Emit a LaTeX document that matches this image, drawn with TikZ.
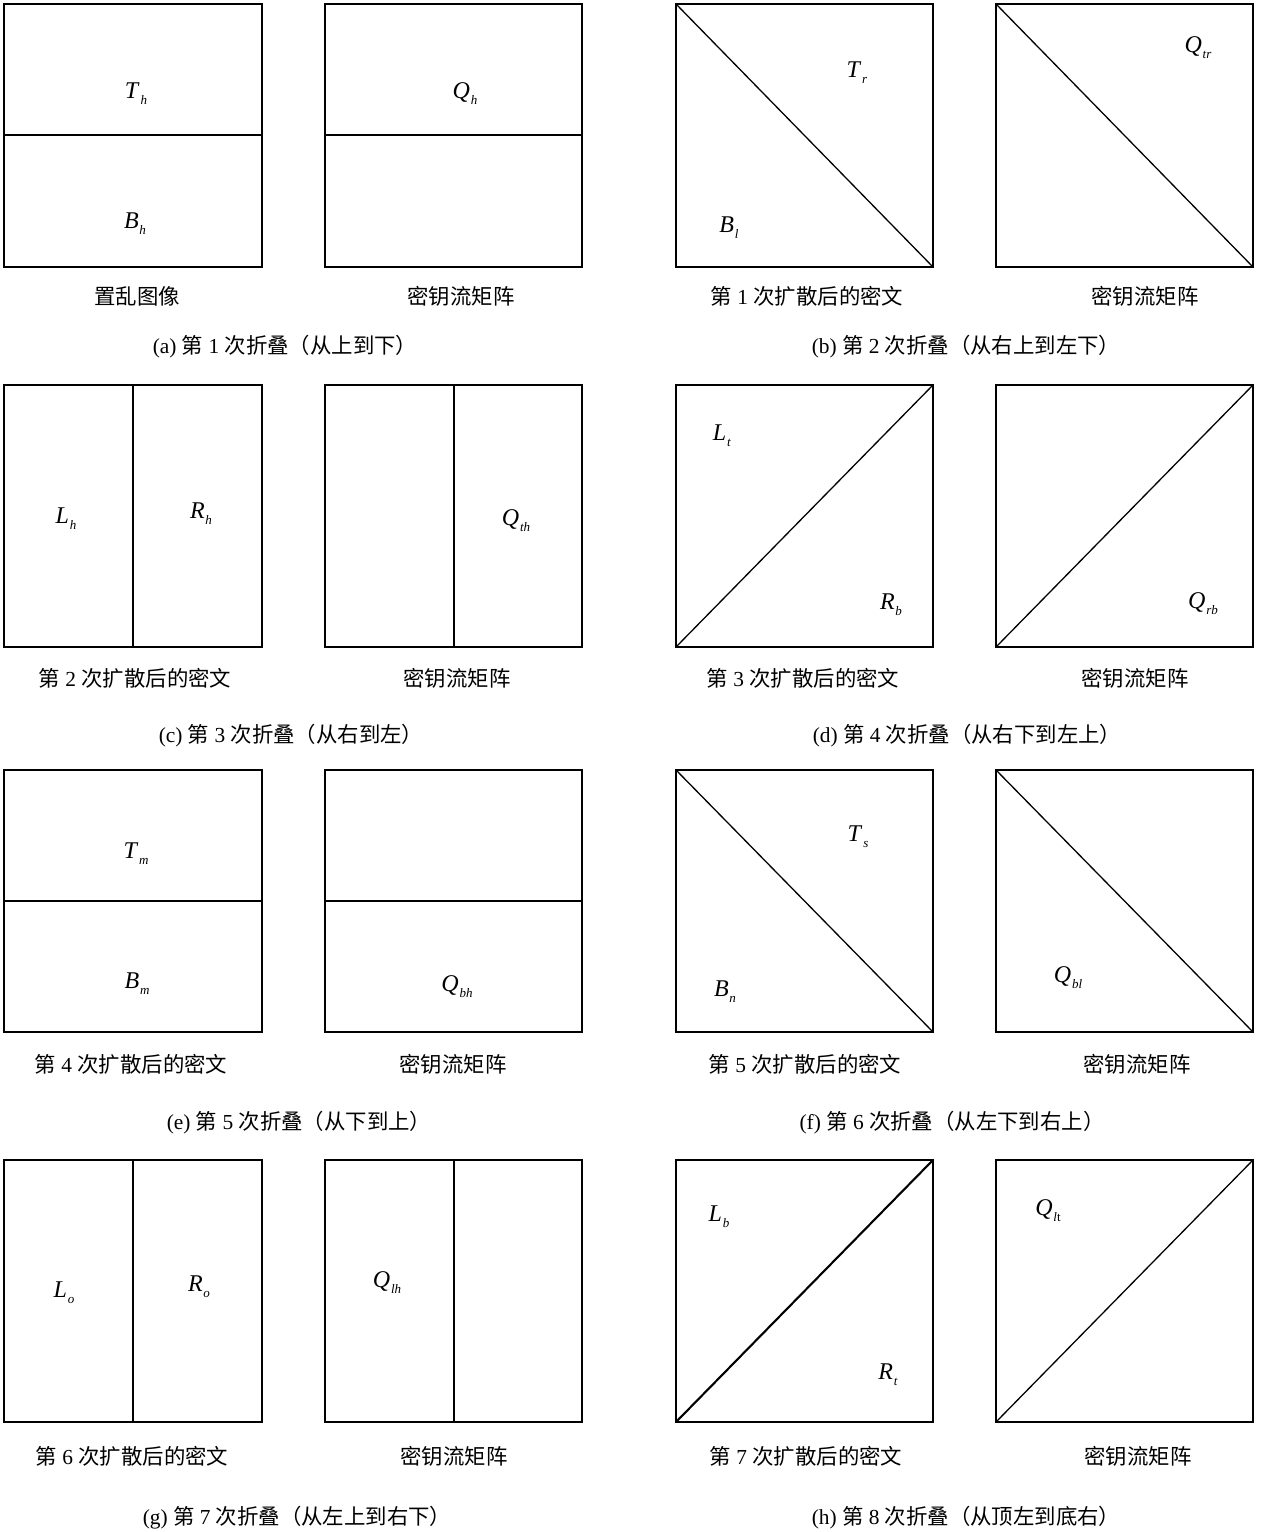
\documentclass[tikz,border=0pt]{standalone}
\usepackage{fontspec}
\setmainfont{Liberation Serif}
\newfontfamily\cjk{Noto Sans CJK SC}
\newcommand\zh[1]{{\cjk #1}}
\newcommand\lbl[2]{\textit{#1}\kern0.4pt\raisebox{-3pt}{\fontsize{6.5}{7}\selectfont\textit{#2}}}
\begin{document}
\begin{tikzpicture}[x=0.5pt,y=-0.5pt,
  box/.style={draw,line width=0.65pt},
  thickbox/.style={draw,line width=1.05pt},
  div/.style={line width=0.65pt},
  lab/.style={inner sep=0pt,font=\fontsize{12}{12}\selectfont},
  capt/.style={inner sep=0pt,font=\fontsize{10.7}{12}\selectfont},
  subcap/.style={inner sep=0pt,font=\fontsize{10.7}{12}\selectfont}]
\useasboundingbox (0,0) rectangle (1265,1532);

% ---------- (a) ----------
\draw[box] (4,4) rectangle (262,267);
\draw[div] (4,135) -- (262,135);
\draw[box] (325,4) rectangle (582,267);
\draw[div] (325,135) -- (582,135);
\node[lab] (ath) at (136,94) {\lbl{T}{h}};
\node[lab] (abh) at (135,224) {\lbl{B}{h}};
\node[lab] (aqh) at (465,94) {\lbl{Q}{h}};
\node[capt] (ac1) at (137,296) {\zh{置乱图像}};
\node[capt] (ac2) at (461,296) {\zh{密钥流矩阵}};
\node[subcap] (as) at (285,347) {(a) \zh{第} 1 \zh{次折叠（从上到下）}};

% ---------- (b) ----------
\draw[box] (676,4) rectangle (933,267);
\draw[div] (676,4) -- (933,267);
\draw[box] (996,4) rectangle (1253,267);
\draw[div] (996,4) -- (1253,267);
\node[lab] (btr) at (857,73) {\lbl{T}{r}};
\node[lab] (bbl) at (729,228) {\lbl{B}{l}};
\node[lab] (bq) at (1198,48) {\lbl{Q}{tr}};
\node[capt] (bc1) at (807,296) {\zh{第} 1 \zh{次扩散后的密文}};
\node[capt] (bc2) at (1145,296) {\zh{密钥流矩阵}};
\node[subcap] (bs) at (966,347) {(b) \zh{第} 2 \zh{次折叠（从右上到左下）}};

% ---------- (c) ----------
\draw[box] (4,385) rectangle (262,647);
\draw[div] (133,385) -- (133,647);
\draw[box] (325,385) rectangle (582,647);
\draw[div] (454,385) -- (454,647);
\node[lab] (clh) at (66,519) {\lbl{L}{h}};
\node[lab] (crh) at (201,514) {\lbl{R}{h}};
\node[lab] (cq) at (516,521) {\lbl{Q}{th}};
\node[capt] (cc1) at (135,678) {\zh{第} 2 \zh{次扩散后的密文}};
\node[capt] (cc2) at (457,678) {\zh{密钥流矩阵}};
\node[subcap] (cs) at (291,736) {(c) \zh{第} 3 \zh{次折叠（从右到左）}};

% ---------- (d) ----------
\draw[box] (676,385) rectangle (933,647);
\draw[div] (676,647) -- (933,385);
\draw[box] (996,385) rectangle (1253,647);
\draw[div] (996,647) -- (1253,385);
\node[lab] (dlt) at (722,436) {\lbl{L}{t}};
\node[lab] (drb) at (891,605) {\lbl{R}{b}};
\node[lab] (dq) at (1203,604) {\lbl{Q}{rb}};
\node[capt] (dc1) at (803,678) {\zh{第} 3 \zh{次扩散后的密文}};
\node[capt] (dc2) at (1135,678) {\zh{密钥流矩阵}};
\node[subcap] (ds) at (967,736) {(d) \zh{第} 4 \zh{次折叠（从右下到左上）}};

% ---------- (e) ----------
\draw[box] (4,770) rectangle (262,1032);
\draw[div] (4,901) -- (262,901);
\draw[box] (325,770) rectangle (582,1032);
\draw[div] (325,901) -- (582,901);
\node[lab] (etm) at (136,854) {\lbl{T}{m}};
\node[lab] (ebm) at (137,984) {\lbl{B}{m}};
\node[lab] (eq) at (457,987) {\lbl{Q}{bh}};
\node[capt] (ec1) at (131,1064) {\zh{第} 4 \zh{次扩散后的密文}};
\node[capt] (ec2) at (453,1064) {\zh{密钥流矩阵}};
\node[subcap] (es) at (299,1123) {(e) \zh{第} 5 \zh{次折叠（从下到上）}};

% ---------- (f) ----------
\draw[box] (676,770) rectangle (933,1032);
\draw[div] (676,770) -- (933,1032);
\draw[box] (996,770) rectangle (1253,1032);
\draw[div] (996,770) -- (1253,1032);
\node[lab] (fts) at (858,837) {\lbl{T}{s}};
\node[lab] (fbn) at (725,992) {\lbl{B}{n}};
\node[lab] (fq) at (1068,978) {\lbl{Q}{bl}};
\node[capt] (fc1) at (805,1064) {\zh{第} 5 \zh{次扩散后的密文}};
\node[capt] (fc2) at (1137,1064) {\zh{密钥流矩阵}};
\node[subcap] (fs) at (952,1123) {(f) \zh{第} 6 \zh{次折叠（从左下到右上）}};

% ---------- (g) ----------
\draw[box] (4,1160) rectangle (262,1422);
\draw[div] (133,1160) -- (133,1422);
\draw[box] (325,1160) rectangle (582,1422);
\draw[div] (454,1160) -- (454,1422);
\node[lab] (glo) at (64,1293) {\lbl{L}{o}};
\node[lab] (gro) at (199,1287) {\lbl{R}{o}};
\node[lab] (gq) at (387,1283) {\lbl{Q}{lh}};
\node[capt] (gc1) at (132,1456) {\zh{第} 6 \zh{次扩散后的密文}};
\node[capt] (gc2) at (454,1456) {\zh{密钥流矩阵}};
\node[subcap] (gs) at (297,1518) {(g) \zh{第} 7 \zh{次折叠（从左上到右下）}};

% ---------- (h) ----------
\draw[thickbox] (676,1160) rectangle (933,1422);
\draw[line width=1.05pt] (676,1422) -- (933,1160);
\draw[thickbox] (996,1160) rectangle (1253,1422);
\draw[div] (996,1422) -- (1253,1160);
\node[lab] (hlb) at (719,1217) {\lbl{L}{b}};
\node[lab] (hrt) at (888,1375) {\lbl{R}{t}};
\node[lab] (hq) at (1048,1211) {\textit{Q}\kern0.4pt\raisebox{-3pt}{\fontsize{6.5}{7}\selectfont\textit{l}t}};
\node[capt] (hc1) at (806,1456) {\zh{第} 7 \zh{次扩散后的密文}};
\node[capt] (hc2) at (1138,1456) {\zh{密钥流矩阵}};
\node[subcap] (hs) at (966,1518) {(h) \zh{第} 8 \zh{次折叠（从顶左到底右）}};
\end{tikzpicture}
\end{document}
